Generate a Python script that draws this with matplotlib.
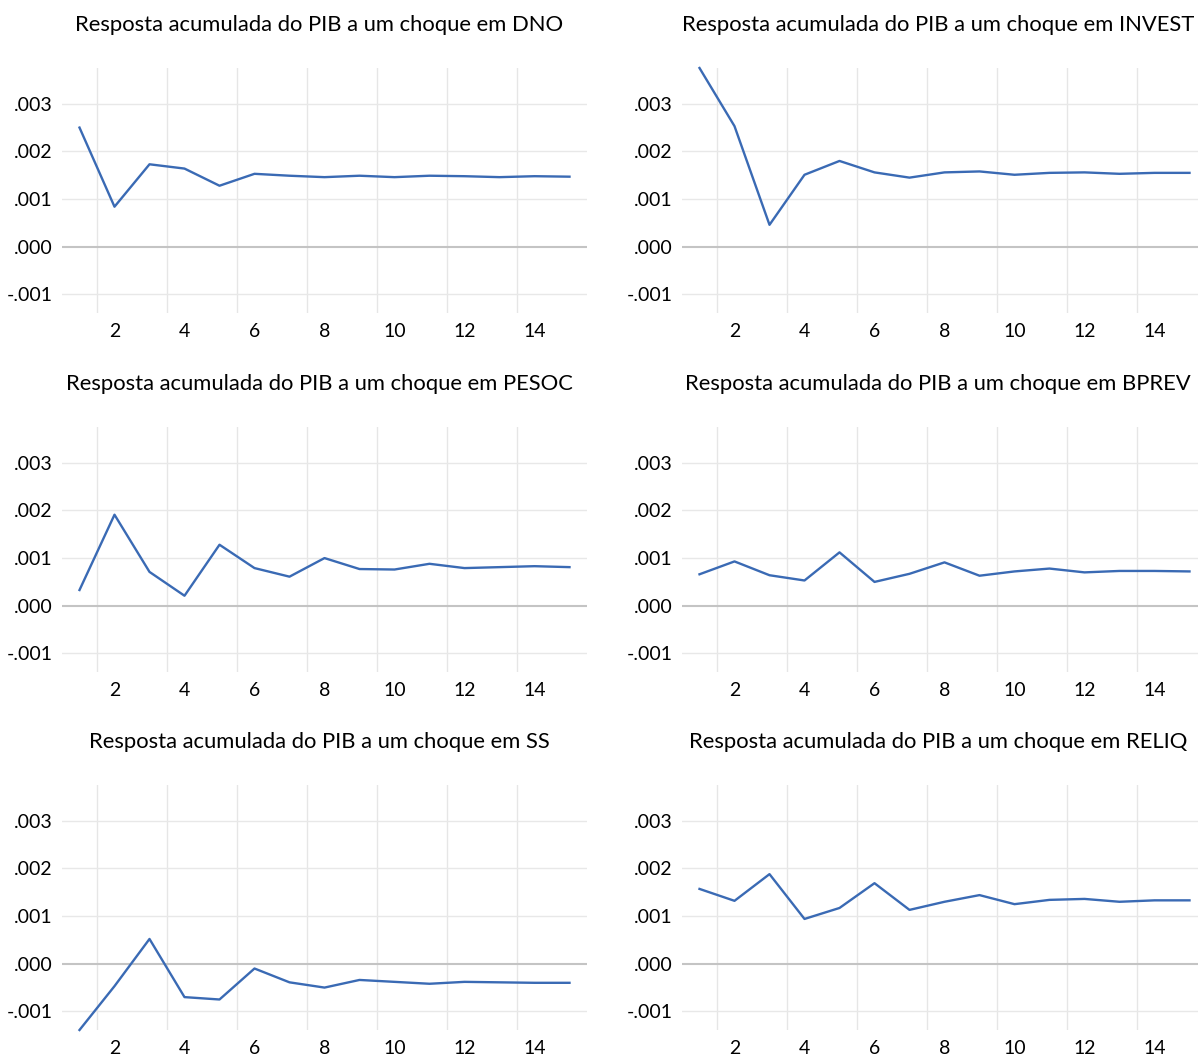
import numpy as np
import matplotlib
matplotlib.use("Agg")
import matplotlib.pyplot as plt
from matplotlib.ticker import FuncFormatter

plt.rcParams['font.family'] = ['Lato', 'DejaVu Sans']

# Cumulative GDP responses, periods 1..15
periods = np.arange(1, 16)
shocks = ["DNO", "INVEST", "PESOC", "BPREV", "SS", "RELIQ"]

dno = [0.00250, 0.00084, 0.00173, 0.00164, 0.00128, 0.00153, 0.00149, 0.00146,
       0.00149, 0.00146, 0.00149, 0.00148, 0.00146, 0.00148, 0.00147]
invest = [0.00375, 0.00253, 0.00046, 0.00151, 0.00180, 0.00156, 0.00145, 0.00156,
          0.00158, 0.00151, 0.00155, 0.00156, 0.00153, 0.00155, 0.00155]
pesoc = [0.00033, 0.00191, 0.00071, 0.00021, 0.00128, 0.00079, 0.00061, 0.00100,
         0.00077, 0.00076, 0.00088, 0.00079, 0.00081, 0.00083, 0.00081]
bprev = [0.00066, 0.00093, 0.00064, 0.00053, 0.00112, 0.00050, 0.00067, 0.00091,
         0.00063, 0.00072, 0.00078, 0.00070, 0.00073, 0.00073, 0.00072]
ss = [-0.00139, -0.00047, 0.00052, -0.00070, -0.00075, -0.00010, -0.00039, -0.00050,
      -0.00034, -0.00038, -0.00042, -0.00038, -0.00039, -0.00040, -0.00040]
reliq = [0.00157, 0.00132, 0.00188, 0.00094, 0.00117, 0.00169, 0.00113, 0.00130,
         0.00144, 0.00125, 0.00134, 0.00136, 0.00130, 0.00133, 0.00133]

series = [dno, invest, pesoc, bprev, ss, reliq]
yticks = [-0.001, 0.0, 0.001, 0.002, 0.003]
xticks = [2, 4, 6, 8, 10, 12, 14]

W, H = 1198, 1055
fig = plt.figure(figsize=(W / 100, H / 100), dpi=100)

ymin = min(min(s) for s in series)
ymax = max(max(s) for s in series)

col_left = [62, 682]
row_top = [68, 427, 785]
aw, ah = 525, 245
title_cx = [319, 938]

def fmt(v, pos):
    s = "%.3f" % v
    s = s.replace("0.", ".")
    if s == "-.000":
        s = ".000"
    return s

for i, (name, vals) in enumerate(zip(shocks, series)):
    r, c = divmod(i, 2)
    x0 = col_left[c]
    y0 = H - row_top[r] - ah
    ax = fig.add_axes([x0 / W, y0 / H, aw / W, ah / H])
    ax.set_xlim(0.5, 15.5)
    ax.set_ylim(ymin, ymax)
    for xv in np.arange(1.5, 14, 2):
        ax.axvline(xv, color="#e6e6e6", lw=1.0, zorder=1)
    for yv in yticks:
        if yv == 0:
            ax.axhline(yv, color="#c4c4c4", lw=1.5, zorder=1)
        else:
            ax.axhline(yv, color="#e8e8e8", lw=1.0, zorder=1)
    ax.plot(periods, vals, color="#3a6ab4", lw=1.7, zorder=3, clip_on=False)
    ax.set_xticks(xticks)
    ax.set_yticks(yticks)
    ax.yaxis.set_major_formatter(FuncFormatter(fmt))
    ax.tick_params(length=0, labelsize=14, colors="black")
    ax.tick_params(axis="y", pad=6.5)
    ax.tick_params(axis="x", pad=7)
    for sp in ax.spines.values():
        sp.set_visible(False)
    fig.text(title_cx[c] / W, 1 - (row_top[r] - 43) / H,
             "Resposta acumulada do PIB a um choque em " + name,
             ha="center", va="center", fontsize=15.8)

fig.savefig("out.png", dpi=100)
